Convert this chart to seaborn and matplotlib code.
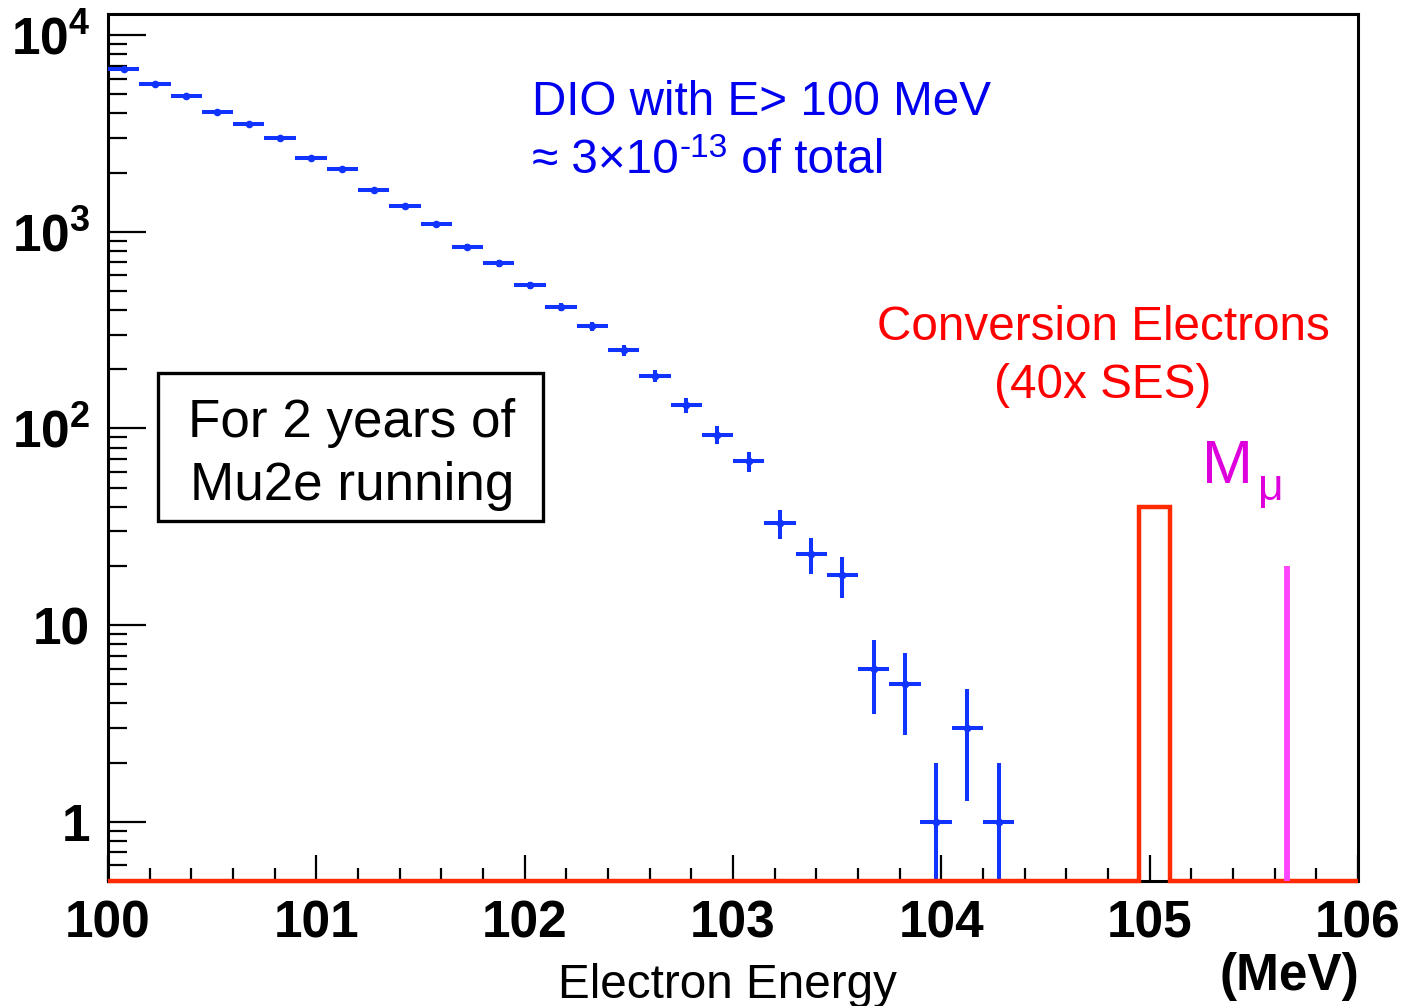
import numpy as np
import pandas as pd
import matplotlib
matplotlib.use("Agg")
import matplotlib.pyplot as plt
import seaborn as sns
from matplotlib.ticker import MultipleLocator, LogLocator, FixedLocator, NullFormatter
from matplotlib.patches import Rectangle

# ---------------- data ----------------
energy = [100.075, 100.225, 100.375, 100.525, 100.675, 100.825, 100.975, 101.125,
          101.275, 101.425, 101.575, 101.725, 101.875, 102.025, 102.175, 102.325,
          102.475, 102.625, 102.775, 102.925, 103.075, 103.225, 103.375, 103.525,
          103.675, 103.825, 103.975, 104.125, 104.275]
counts = [6700, 5660, 4920, 4060, 3530, 3000, 2380, 2090, 1630, 1350, 1090, 840,
          690, 535, 415, 330, 250, 185, 131, 93, 68, 33, 23, 18, 6, 5, 1, 3, 1]
errors = [82, 75, 70, 64, 59, 55, 49, 46, 40, 37, 33, 29, 26, 23, 20, 18, 16,
          13.6, 11.4, 9.6, 8.2, 5.7, 4.8, 4.2, 2.45, 2.24, 1.0, 1.73, 1.0]
bin_half_width = [0.075] * len(energy)

ce_edges = [100.0, 104.95, 105.10, 106.0]
ce_counts = [0, 40, 0]

mmu_energy = 105.66
mmu_height = 20

x_ticks = [100, 101, 102, 103, 104, 105, 106]
x_ticklabels = ["100", "101", "102", "103", "104", "105", "106"]
y_ticks = [1, 10, 100, 1000, 10000]
y_ticklabels = ["1", "10", r"$\mathbf{10^{2}}$", r"$\mathbf{10^{3}}$", r"$\mathbf{10^{4}}$"]
x_range = (100, 106)
y_range = (0.5, 12800)

df = pd.DataFrame({"energy": energy, "counts": counts})

# ---------------- style ----------------
sns.set_theme(style="white")
plt.rcParams["font.family"] = ["Liberation Sans", "DejaVu Sans"]
plt.rcParams["mathtext.fontset"] = "custom"
plt.rcParams["mathtext.rm"] = "Liberation Sans"
plt.rcParams["mathtext.it"] = "Liberation Sans:italic"
plt.rcParams["mathtext.bf"] = "Liberation Sans:bold"

W, H = 1405, 1006
fig = plt.figure(figsize=(W / 100, H / 100), dpi=100)
fig.patch.set_facecolor("white")
ax = fig.add_axes([108 / W, 1 - 881 / H, (1358 - 108) / W, (881 - 14) / H])
ax.set_facecolor("white")

BLUE = "#1133ff"
RED = "#ff2a00"

def fx(px):
    return px / W

def fy(py):
    return 1 - py / H

# DIO points with error bars
ax.errorbar(energy, counts, xerr=bin_half_width, yerr=errors, fmt="none",
            ecolor=BLUE, elinewidth=2.9, capsize=0, zorder=3)
sns.scatterplot(data=df, x="energy", y="counts", ax=ax, color=BLUE, s=30,
                edgecolor=BLUE, linewidth=0, zorder=4, legend=False)

# Conversion electron histogram (zero bins drawn at the axis floor)
ce_draw = np.maximum(np.array(ce_counts, dtype=float), y_range[0])
ax.stairs(ce_draw, ce_edges, color=RED, linewidth=3.2, zorder=5, clip_on=False,
          baseline=None)

# muon mass line
ax.vlines(mmu_energy, y_range[0], mmu_height, color="#ff44ff", linewidth=4.2, zorder=5)

ax.set_yscale("log")
ax.set_xlim(*x_range)
ax.set_ylim(*y_range)

ax.xaxis.set_major_locator(FixedLocator(x_ticks))
ax.set_xticklabels(x_ticklabels)
ax.xaxis.set_minor_locator(MultipleLocator(0.2))
ax.yaxis.set_major_locator(FixedLocator(y_ticks))
ax.set_yticklabels(y_ticklabels)
ax.yaxis.set_minor_locator(LogLocator(base=10, subs=np.arange(2, 10)))
ax.yaxis.set_minor_formatter(NullFormatter())

ax.tick_params(axis="x", which="major", direction="in", length=18.7, width=1.6,
               bottom=True, top=False, pad=13, labelsize=37, color="black")
ax.tick_params(axis="x", which="minor", direction="in", length=9.4, width=1.6,
               bottom=True, top=False, color="black")
ax.tick_params(axis="y", which="major", direction="in", length=27, width=1.6,
               left=True, right=False, pad=13, labelsize=37, color="black")
ax.tick_params(axis="y", which="minor", direction="in", length=13.7, width=1.6,
               left=True, right=False, color="black")
for lab in ax.get_xticklabels() + ax.get_yticklabels():
    lab.set_fontweight("bold")
    lab.set_color("black")

for sp in ax.spines.values():
    sp.set_visible(True)
    sp.set_color("black")
    sp.set_linewidth(2.2)

ax.set_xlabel("")
ax.set_ylabel("")
ax.grid(False)

# ---------------- annotations ----------------
fig.text(fx(532), fy(115), "DIO with E> 100 MeV", color="#0000ee", fontsize=34.3,
         ha="left", va="baseline")
t1 = fig.text(fx(532), fy(173), "\u2248 3\u00d710", color="#0000ee", fontsize=34.3,
              ha="left", va="baseline")
fig.canvas.draw()
r = fig.canvas.get_renderer()
bb = t1.get_window_extent(renderer=r)
x_sup = bb.x1 + 1
t2 = fig.text(x_sup / W, fy(157), "-13", color="#0000ee", fontsize=24,
              ha="left", va="baseline")
bb2 = t2.get_window_extent(renderer=r)
fig.text((bb2.x1) / W, fy(173), " of total", color="#0000ee", fontsize=34.3,
         ha="left", va="baseline")

fig.text(fx(1103), fy(340), "Conversion Electrons", color="#ff0000", fontsize=34.3,
         ha="center", va="baseline")
fig.text(fx(1103), fy(398), "(40x SES)", color="#ff0000", fontsize=34.3,
         ha="center", va="baseline")

tm = fig.text(fx(1202), fy(483), "M", color="#dd00dd", fontsize=44,
              ha="left", va="baseline")
bbm = tm.get_window_extent(renderer=r)
fig.text((bbm.x1 + 5) / W, fy(500), "\u03bc", color="#dd00dd", fontsize=32,
         ha="left", va="baseline")

box = Rectangle((fx(158), fy(521)), fx(543) - fx(158), fy(373) - fy(521),
                transform=fig.transFigure, fill=False, edgecolor="black",
                linewidth=2.4, zorder=6)
fig.add_artist(box)
fig.text(fx(352), fy(437), "For 2 years of", color="black", fontsize=38.2,
         ha="center", va="baseline")
fig.text(fx(352), fy(500), "Mu2e running", color="black", fontsize=38.2,
         ha="center", va="baseline")

fig.text(fx(728), fy(998), "Electron Energy", color="black", fontsize=34.3,
         ha="center", va="baseline")
fig.text(fx(1289), fy(990), "(MeV)", color="black", fontsize=37, fontweight="bold",
         ha="center", va="baseline")

fig.savefig("out.png", dpi=100, facecolor="white")
